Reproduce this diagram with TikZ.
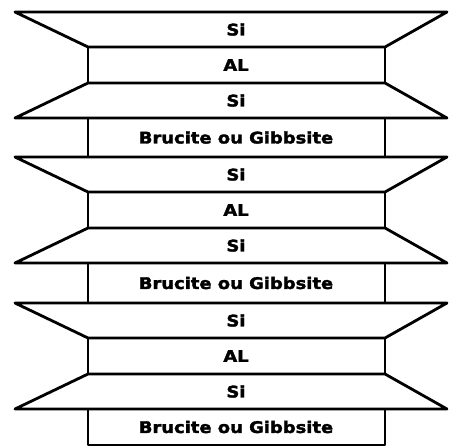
\documentclass[tikz,border=0pt]{standalone}
\usepackage{fontspec}
\setmainfont{DejaVu Sans}[FakeStretch=1.12,BoldFeatures={FakeBold=2}]
\usetikzlibrary{calc}

\tikzset{
  sheet/.style={draw=black,line width=2.8pt,line join=round},
  sheetlbl/.style={font=\fontsize{16}{16}\selectfont\bfseries,inner sep=0pt}
}

\begin{document}
\begin{tikzpicture}[x=1pt,y=-1pt]
  \useasboundingbox (0,0) rectangle (450,447);
  \foreach \k/\y/\h in {1/12/145,2/157/146,3/303/142}{
    % Si -- AL -- Si, then interlayer
    \draw[sheet] (15,\y)--(447,\y)--(385,\y+35)--(88,\y+35)--cycle;
    \draw[sheet] (88,\y+35) rectangle (385,\y+71);
    \draw[sheet] (88,\y+71)--(385,\y+71)--(447,\y+106)--(15,\y+106)--cycle;
    \draw[sheet] (88,\y+106) rectangle (385,\y+\h);
    \node[sheetlbl] (si-a-\k) at (236,\y+17.5) {Si};
    \node[sheetlbl] (al-\k) at (236,\y+53) {AL};
    \node[sheetlbl] (si-b-\k) at (236,\y+88.5) {Si};
    \node[sheetlbl] (bru-\k) at (236,\y+106+\h/2-53) {Brucite ou Gibbsite};
  }
\end{tikzpicture}
\end{document}
